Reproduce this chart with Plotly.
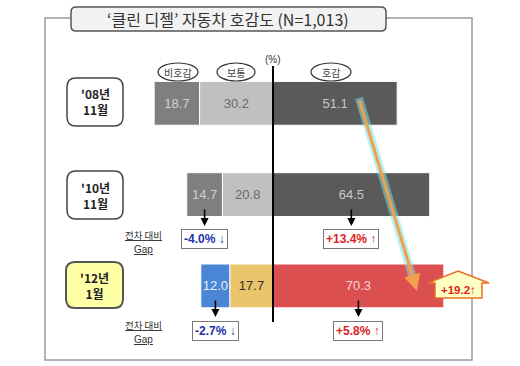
import plotly.graph_objects as go

# ---- data ----
periods = ["'08년<br>11월", "'10년<br>11월", "'12년<br>1월"]
period_keys = ["08", "10", "12"]
unfav = [18.7, 14.7, 12.0]      # 비호감
neutral = [30.2, 20.8, 17.7]    # 보통
fav = [51.1, 64.5, 70.3]        # 호감
gap_unfav = ["", "-4.0% ↓", "-2.7% ↓"]
gap_fav = ["", "+13.4% ↑", "+5.8% ↑"]
total_change = "+19.2↑"
title_text = "‘클린 디젤’ 자동차 호감도 (N=1,013)"
legend_labels = ["비호감", "보통", "호감"]
gap_label_1 = "<u>전차 대비</u>"
gap_label_2 = "<u>Gap</u>"

W, H = 520, 366
FONT = "Noto Sans CJK KR"

def X(x):
    return x / W

def Y(y):
    return 1 - y / H

def rrect(x0, y0, x1, y1, r):
    return (f"M {X(x0+r)},{Y(y0)} L {X(x1-r)},{Y(y0)} Q {X(x1)},{Y(y0)} {X(x1)},{Y(y0+r)} "
            f"L {X(x1)},{Y(y1-r)} Q {X(x1)},{Y(y1)} {X(x1-r)},{Y(y1)} "
            f"L {X(x0+r)},{Y(y1)} Q {X(x0)},{Y(y1)} {X(x0)},{Y(y1-r)} "
            f"L {X(x0)},{Y(y0+r)} Q {X(x0)},{Y(y0)} {X(x0+r)},{Y(y0)} Z")

unfav_colors = ["#7f7f7f", "#7f7f7f", "#4a86d4"]
neutral_colors = ["#c0c0c0", "#c0c0c0", "#e9c46c"]
fav_colors = ["#5a5a5a", "#5a5a5a", "#dc4f50"]

fig = go.Figure()
bw = 0.48
common = dict(orientation="h", width=bw, textposition="inside", insidetextanchor="middle",
              textangle=0, constraintext="none", hoverinfo="skip")
fig.add_trace(go.Bar(
    y=period_keys, x=unfav, base=[-(u + n) for u, n in zip(unfav, neutral)],
    marker=dict(color=unfav_colors, line=dict(color="white", width=1)),
    text=[f"{v:.1f}" for v in unfav],
    textfont=dict(family="Arial", size=13, color=["#d0d0d0", "#d0d0d0", "#e8eefa"]), **common))
fig.add_trace(go.Bar(
    y=period_keys, x=neutral, base=[-n for n in neutral],
    marker=dict(color=neutral_colors, line=dict(color="white", width=1)),
    text=[f"{v:.1f}" for v in neutral],
    textfont=dict(family="Arial", size=13, color=["#6a6a6a", "#6a6a6a", "#3a3020"]), **common))
fig.add_trace(go.Bar(
    y=period_keys, x=fav, base=[0, 0, 0],
    marker=dict(color=fav_colors, line=dict(color="white", width=1)),
    text=[f"{v:.1f}" for v in fav],
    textfont=dict(family="Arial", size=13, color=["#c8c8c8", "#c8c8c8", "#f4d4d4"]), **common))

shapes = []
annotations = []

# outer frame
shapes.append(dict(type="rect", xref="paper", yref="paper", x0=X(45), x1=X(472), y0=Y(18), y1=Y(360),
                   line=dict(color="#9a9a9a", width=1.5), fillcolor="rgba(0,0,0,0)", layer="below"))
# title box
shapes.append(dict(type="path", xref="paper", yref="paper", path=rrect(71, 7, 386, 31, 5),
                   line=dict(color="#555", width=1.5), fillcolor="#f2f2f2"))
annotations.append(dict(xref="paper", yref="paper", x=X(228), y=Y(19), text=title_text, showarrow=False,
                        font=dict(family=FONT, size=16, color="#333"), xanchor="center", yanchor="middle"))

# period label boxes
box_specs = [(67, 78, 123, 126, "white", "#444", 1.5),
             (67, 171, 123, 219, "white", "#444", 1.5),
             (66, 262, 123, 308, "#ffffa6", "#555", 2)]
for (x0, y0, x1, y1, fc, lc, lw), lab in zip(box_specs, periods):
    shapes.append(dict(type="path", xref="paper", yref="paper", path=rrect(x0, y0, x1, y1, 9),
                       line=dict(color=lc, width=lw), fillcolor=fc))
    annotations.append(dict(xref="paper", yref="paper", x=X((x0 + x1) / 2), y=Y((y0 + y1) / 2), text=f"<b>{lab}</b>",
                            showarrow=False, font=dict(family=FONT, size=12, color="#222"),
                            xanchor="center", yanchor="middle"))

# legend ovals
oval_specs = [(178, 40), (236, 38), (331, 40)]
for (cx, w), lab in zip(oval_specs, legend_labels):
    shapes.append(dict(type="circle", xref="paper", yref="paper", x0=X(cx - w / 2), x1=X(cx + w / 2),
                       y0=Y(63), y1=Y(81), line=dict(color="#333", width=1.2), fillcolor="white"))
    annotations.append(dict(xref="paper", yref="paper", x=X(cx), y=Y(72), text=lab, showarrow=False,
                            font=dict(family=FONT, size=10, color="#444"), xanchor="center", yanchor="middle"))
annotations.append(dict(xref="paper", yref="paper", x=X(273), y=Y(59), text="(%)", showarrow=False,
                        font=dict(family="Arial", size=10, color="#333"), xanchor="center", yanchor="middle"))

# center line
shapes.append(dict(type="line", xref="x", yref="paper", x0=0, x1=0, y0=Y(66), y1=Y(322),
                   line=dict(color="black", width=2)))

# gap arrows and boxes
gap_rows = [(1, 208, 226, 239, 235, 249), (2, 299, 317, 331, 325, 339)]
for i, a_top, a_bot, box_y, l1, l2 in gap_rows:
    cu = -(neutral[i] + unfav[i] / 2)
    cf = fav[i] / 2
    for cx in (cu, cf):
        annotations.append(dict(xref="x", yref="paper", x=cx, y=Y(a_bot), ax=0, ay=-(a_bot - a_top),
                                showarrow=True, arrowhead=2, arrowsize=1, arrowwidth=1.6, arrowcolor="black",
                                text=""))
    annotations.append(dict(xref="x", yref="paper", x=cu, y=Y(box_y), text=f"<b>{gap_unfav[i]}</b>", showarrow=False,
                            font=dict(family="Arial", size=12, color="#2233aa"), bordercolor="#777", borderwidth=1,
                            borderpad=2, bgcolor="white", xanchor="center", yanchor="middle"))
    annotations.append(dict(xref="x", yref="paper", x=cf, y=Y(box_y), text=f"<b>{gap_fav[i]}</b>", showarrow=False,
                            font=dict(family="Arial", size=12, color="#dd2222"), bordercolor="#777", borderwidth=1,
                            borderpad=2, bgcolor="white", xanchor="center", yanchor="middle"))
    annotations.append(dict(xref="paper", yref="paper", x=X(143), y=Y(l1), text=gap_label_1, showarrow=False,
                            font=dict(family=FONT, size=9.5, color="#333"), xanchor="center", yanchor="middle",
                            borderpad=0))
    annotations.append(dict(xref="paper", yref="paper", x=X(143), y=Y(l2), text=gap_label_2, showarrow=False,
                            font=dict(family="Arial", size=10, color="#333"), xanchor="center", yanchor="middle",
                            borderpad=0))

# orange trend arrow with cyan glow
shapes.append(dict(type="line", xref="paper", yref="paper", x0=X(359), y0=Y(98), x1=X(414), y1=Y(282),
                   line=dict(color="rgba(120,225,235,0.55)", width=8)))
annotations.append(dict(xref="paper", yref="paper", x=X(417), y=Y(291), ax=359 - 417, ay=99 - 291,
                        showarrow=True, arrowhead=2, arrowsize=1.1, arrowwidth=3, arrowcolor="#f2a04c", text=""))

# yellow up-arrow callout
up_pts = [(458, 271), (489, 283), (482, 283), (482, 298), (435, 298), (435, 283), (428, 283)]
up_path = "M " + " L ".join(f"{X(a)},{Y(b)}" for a, b in up_pts) + " Z"
shapes.append(dict(type="path", xref="paper", yref="paper", path=up_path,
                   line=dict(color="#e8702a", width=1.5), fillcolor="#ffffc4"))
annotations.append(dict(xref="paper", yref="paper", x=X(458), y=Y(290), text=f"<b>{total_change}</b>", showarrow=False,
                        font=dict(family="Arial", size=11.5, color="#e02020"), xanchor="center", yanchor="middle"))

fig.update_layout(
    width=W, height=H, margin=dict(l=0, r=0, t=0, b=0),
    paper_bgcolor="white", plot_bgcolor="white",
    barmode="overlay", showlegend=False,
    xaxis=dict(range=[-273 / 2.43, 247 / 2.43], visible=False, fixedrange=True),
    yaxis=dict(type="category", categoryorder="array", categoryarray=period_keys,
               range=[2.877, -1.1314], visible=False, fixedrange=True),
    shapes=shapes, annotations=annotations,
)
fig.write_html("out.html", config={"displayModeBar": False},
               post_script="document.body.style.margin='0';document.body.style.overflow='hidden';")
